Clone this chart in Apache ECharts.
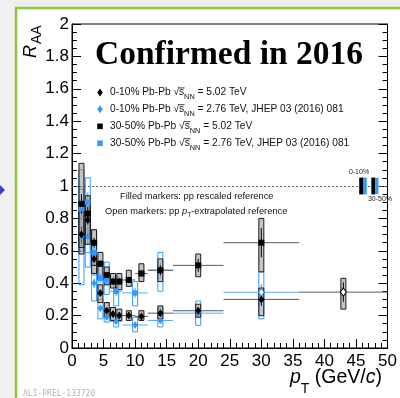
<!DOCTYPE html>
<html>
<head>
<meta charset="utf-8">
<script src="https://cdn.jsdelivr.net/npm/echarts@6/dist/echarts.min.js"></script>
<style>
  html, body { margin: 0; padding: 0; background: #fff; }
  #chart { width: 400px; height: 398px; }
</style>
</head>
<body>
<div id="chart"></div>
<script>
// D-meson nuclear modification factor vs pT in Pb-Pb collisions,
// 0-10% and 30-50% centrality, sqrt(sNN) = 5.02 TeV compared with 2.76 TeV.

// ---- 5.02 TeV bins ----
const ptBins502 = [1.5, 2.5, 3.5, 4.5, 5.5, 6.5, 7.5, 9, 11, 14, 20, 30, 43];
const halfBin502 = [0.5, 0.5, 0.5, 0.5, 0.5, 0.5, 0.5, 1, 1, 2, 4, 6, 7];

// 0-10% at 5.02 TeV
const raa010_502 = [0.70, 0.79, 0.55, 0.34, 0.23, 0.21, 0.20, 0.20, 0.195, 0.215, 0.23, 0.30, 0.345];
const stat010_502 = [0.05, 0.03, 0.025, 0.015, 0.012, 0.01, 0.01, 0.01, 0.01, 0.015, 0.02, 0.04, 0.06];
const sysLo010_502 = [0.58, 0.68, 0.46, 0.28, 0.19, 0.17, 0.17, 0.17, 0.17, 0.18, 0.19, 0.20, 0.24];
const sysHi010_502 = [0.84, 0.90, 0.60, 0.39, 0.28, 0.25, 0.24, 0.23, 0.23, 0.26, 0.27, 0.37, 0.43];
const open010_502 = [0, 0, 0, 0, 0, 0, 0, 0, 0, 0, 0, 0, 1];

// 30-50% at 5.02 TeV (first 12 bins)
const raa3050_502 = [0.89, 0.83, 0.65, 0.52, 0.45, 0.41, 0.41, 0.42, 0.46, 0.48, 0.51, 0.65];
const stat3050_502 = [0.06, 0.04, 0.03, 0.02, 0.02, 0.02, 0.02, 0.02, 0.02, 0.03, 0.04, 0.09];
const sysLo3050_502 = [0.62, 0.64, 0.51, 0.42, 0.39, 0.37, 0.36, 0.38, 0.41, 0.41, 0.44, 0.47];
const sysHi3050_502 = [1.14, 0.94, 0.73, 0.59, 0.50, 0.46, 0.46, 0.48, 0.52, 0.55, 0.58, 0.80];

// ---- 2.76 TeV bins (JHEP 03 (2016) 081) ----
const ptBins276 = [1.5, 2.5, 3.5, 4.5, 5.5, 7, 10, 14, 20, 30];
const halfBin276 = [0.5, 0.5, 0.5, 0.5, 0.5, 1, 2, 2, 4, 6];

// 0-10% at 2.76 TeV
const raa010_276 = [0.69, 0.69, 0.40, 0.245, 0.19, 0.165, 0.142, 0.17, 0.215, 0.344];
const stat010_276 = [0.06, 0.05, 0.03, 0.02, 0.015, 0.015, 0.015, 0.02, 0.03, 0.05];
const sysLo010_276 = [0.39, 0.50, 0.29, 0.18, 0.16, 0.13, 0.10, 0.13, 0.14, 0.18];
const sysHi010_276 = [0.98, 0.88, 0.51, 0.30, 0.28, 0.20, 0.19, 0.245, 0.29, 0.47];
const open010_276 = [0, 0, 0, 0, 0, 0, 0, 0, 0, 1];

// 30-50% at 2.76 TeV (first 8 bins)
const raa3050_276 = [0.86, 0.90, 0.59, 0.43, 0.42, 0.35, 0.34, 0.48];
const stat3050_276 = [0.08, 0.06, 0.04, 0.03, 0.03, 0.03, 0.03, 0.05];
const sysLo3050_276 = [0.60, 0.59, 0.45, 0.33, 0.33, 0.26, 0.26, 0.35];
const sysHi3050_276 = [1.10, 1.05, 0.73, 0.53, 0.53, 0.44, 0.41, 0.59];

// Normalisation uncertainties at R_AA = 1: 0-10% 5.02, 0-10% 2.76, 30-50% 5.02, 30-50% 2.76
const normUnc = [0.052, 0.052, 0.052, 0.050];

// Axis ticks
const xTicks = { min: 0, max: 50, step: 5 };
const yTicks = { min: 0, max: 2, step: 0.2 };

// ---------------------------------------------------------------------------
const BLACK = '#000000';
const BLUE = '#3399ff';
const SANS = 'Liberation Sans, Arial, sans-serif';

function rows(pt, hw, val, stat, lo, hi, n) {
  const out = [];
  for (let i = 0; i < n; i++) out.push([pt[i], val[i], hw[i], stat[i], lo[i], hi[i]]);
  return out;
}

function uncRenderer(lineColor, boxStroke, boxFill, statColor) {
  return function (params, api) {
    const x = api.value(0), y = api.value(1), hw = api.value(2);
    const st = api.value(3), lo = api.value(4), hi = api.value(5);
    const c = api.coord([x, y]);
    const l = api.coord([x - hw, y]);
    const r = api.coord([x + hw, y]);
    const bLo = api.coord([x, lo]);
    const bHi = api.coord([x, hi]);
    const sLo = api.coord([x, y - st]);
    const sHi = api.coord([x, y + st]);
    const bw = 5;
    return {
      type: 'group',
      children: [
        { type: 'line', shape: { x1: l[0], y1: c[1], x2: r[0], y2: c[1] },
          style: { stroke: lineColor, lineWidth: 1 } },
        { type: 'rect', shape: { x: c[0] - bw / 2, y: bHi[1], width: bw, height: bLo[1] - bHi[1] },
          style: { fill: boxFill, stroke: boxStroke, lineWidth: 1 } },
        { type: 'line', shape: { x1: c[0], y1: sLo[1], x2: c[0], y2: sHi[1] },
          style: { stroke: statColor, lineWidth: 1 } }
      ]
    };
  };
}

function markerData(pt, val, n, open, fillColor, borderColor) {
  const out = [];
  for (let i = 0; i < n; i++) {
    const item = { value: [pt[i], val[i]] };
    if (open && open[i]) {
      item.itemStyle = { color: '#ffffff', borderColor: borderColor, borderWidth: 1 };
    }
    out.push(item);
  }
  return out;
}

// ---- text helpers (subscripts are laid out as separate text pieces) ----
const mctx = document.createElement('canvas').getContext('2d');
function textWidth(t, size, family, fstyle, weight) {
  mctx.font = (fstyle || 'normal') + ' ' + (weight || 'normal') + ' ' + size + 'px ' + family;
  return mctx.measureText(t).width;
}

// pieces: [text, kind], kind in n | i | sub | isub | sqrt
function textRun(x, y, pieces, size, color, family, subDy, z) {
  let cx = x;
  const els = [];
  pieces.forEach(function (p) {
    const t = p[0], k = p[1];
    const sub = k === 'sub' || k === 'isub';
    const it = k === 'i' || k === 'isub';
    const fs = sub ? size * 0.72 : size;
    const fst = it ? 'italic' : 'normal';
    const w = textWidth(t, fs, family, fst);
    els.push({
      type: 'text', x: cx, y: sub ? y + size * subDy : y, z: z || 10,
      style: { text: t, fontSize: fs, fontFamily: family, fontStyle: fst, fill: color,
               align: 'left', verticalAlign: 'middle' }
    });
    if (k === 'sqrt') {
      // overline continuing the radical sign across the next character
      const ws = textWidth('s', fs, family, 'normal');
      els.push({ type: 'line', z: z || 10,
        shape: { x1: cx + w - 0.5, y1: y - size * 0.45, x2: cx + w + ws + 0.5, y2: y - size * 0.45 },
        style: { stroke: color, lineWidth: 0.8 } });
    }
    cx += w;
  });
  return els;
}

const graphics = [];

// slide surroundings
graphics.push({ type: 'rect', z: -5, shape: { x: 0, y: 0, width: 400, height: 7 }, style: { fill: '#ededed' } });
graphics.push({ type: 'rect', z: -5, shape: { x: 0, y: 0, width: 15, height: 398 }, style: { fill: '#f1f1f1' } });
graphics.push({ type: 'line', z: 20, shape: { x1: 15, y1: 8, x2: 400, y2: 8 }, style: { stroke: '#8dc63f', lineWidth: 2.5 } });
graphics.push({ type: 'line', z: 20, shape: { x1: 16, y1: 7, x2: 16, y2: 398 }, style: { stroke: '#8dc63f', lineWidth: 2.5 } });
graphics.push({ type: 'polygon', z: 20, shape: { points: [[0, 185], [5, 190], [0, 195]] }, style: { fill: '#3c3ccf' } });

// headline
graphics.push({ type: 'text', x: 95, y: 55.5, z: 10,
  style: { text: 'Confirmed in 2016', fontSize: 33.5, fontWeight: 'bold', fontFamily: 'Liberation Serif, serif',
           fill: '#000', align: 'left', verticalAlign: 'middle' } });

// legend
const legendRows = [
  { y: 92.5, sym: 'diamond', color: BLACK, cent: '0-10% Pb-Pb ', tail: ' = 5.02 TeV' },
  { y: 109.3, sym: 'diamond', color: BLUE, cent: '0-10% Pb-Pb ', tail: ' = 2.76 TeV, JHEP 03 (2016) 081' },
  { y: 126.3, sym: 'square', color: BLACK, cent: '30-50% Pb-Pb ', tail: ' = 5.02 TeV' },
  { y: 143.3, sym: 'square', color: BLUE, cent: '30-50% Pb-Pb ', tail: ' = 2.76 TeV, JHEP 03 (2016) 081' }
];
legendRows.forEach(function (r) {
  if (r.sym === 'diamond') {
    graphics.push({ type: 'polygon', z: 10, shape: { points: [[100, r.y - 4], [102.8, r.y], [100, r.y + 4], [97.2, r.y]] },
      style: { fill: r.color } });
  } else {
    graphics.push({ type: 'rect', z: 10, shape: { x: 97.2, y: r.y - 2.8, width: 5.6, height: 5.6 }, style: { fill: r.color } });
  }
  textRun(110, r.y, [[r.cent, 'n'], ['\u221A', 'sqrt'], ['s', 'n'], ['NN', 'sub'], [r.tail, 'n']],
          10.2, '#111', SANS, 0.42, 10).forEach(function (e) { graphics.push(e); });
});

// reference notes
graphics.push({ type: 'text', x: 120, y: 196, z: 10,
  style: { text: 'Filled markers: pp rescaled reference', fontSize: 9.3, fontFamily: SANS, fill: '#111',
           align: 'left', verticalAlign: 'middle' } });
textRun(105, 211, [['Open markers: pp ', 'n'], ['p', 'i'], ['T', 'sub'], ['-extrapolated reference', 'n']],
        9.3, '#111', SANS, 0.45, 10).forEach(function (e) { graphics.push(e); });

// normalisation box labels
graphics.push({ type: 'text', x: 359, y: 172.5, z: 10,
  style: { text: '0-10%', fontSize: 7, fontFamily: SANS, fill: '#222', align: 'center', verticalAlign: 'middle' } });
graphics.push({ type: 'text', x: 380, y: 199.5, z: 10,
  style: { text: '30-50%', fontSize: 7, fontFamily: SANS, fill: '#222', align: 'center', verticalAlign: 'middle' } });

// axis titles
graphics.push({
  type: 'group', x: 31, y: 58, rotation: Math.PI / 2, z: 10,
  children: [
    { type: 'text', x: 0, y: 0, style: { text: 'R', fontSize: 18, fontStyle: 'italic', fontFamily: SANS, fill: '#000',
        align: 'left', verticalAlign: 'middle' } },
    { type: 'text', x: textWidth('R', 18, SANS, 'italic') + 1, y: 6.5, style: { text: 'AA', fontSize: 14, fontFamily: SANS,
        fill: '#000', align: 'left', verticalAlign: 'middle' } }
  ]
});
textRun(290, 377.5, [['p', 'i'], ['T', 'sub'], [' (GeV/', 'n'], ['c', 'i'], [')', 'n']],
        19.5, '#000', SANS, 0.62, 10).forEach(function (e) { graphics.push(e); });

// preliminary figure id
graphics.push({ type: 'text', x: 23, y: 394, z: 10,
  style: { text: 'ALI-PREL-133720', fontSize: 8, fontFamily: 'DejaVu Sans Mono, monospace', fill: '#b5b5b5',
           align: 'left', verticalAlign: 'middle' } });

// ---------------------------------------------------------------------------
const axisCommon = {
  axisLine: { show: true, onZero: false, lineStyle: { color: '#000', width: 1 } },
  axisTick: { show: true, inside: true, length: 9, lineStyle: { color: '#000', width: 1 } },
  minorTick: { show: true, length: 5, lineStyle: { color: '#000', width: 1 } },
  splitLine: { show: false },
  minorSplitLine: { show: false }
};

const option = {
  backgroundColor: '#ffffff',
  animation: false,
  grid: { left: 72, top: 24, width: 318, height: 324, show: true, borderColor: '#000', borderWidth: 1,
          backgroundColor: 'transparent' },
  xAxis: [{
    type: 'value', min: xTicks.min, max: xTicks.max, interval: xTicks.step,
    axisLine: axisCommon.axisLine, axisTick: axisCommon.axisTick,
    minorTick: Object.assign({ splitNumber: 5 }, axisCommon.minorTick),
    splitLine: axisCommon.splitLine, minorSplitLine: axisCommon.minorSplitLine,
    axisLabel: { fontSize: 17, color: '#000', fontFamily: SANS, margin: 5, showMinLabel: true, showMaxLabel: true }
  }],
  yAxis: [{
    type: 'value', min: yTicks.min, max: yTicks.max, interval: yTicks.step,
    axisLine: axisCommon.axisLine, axisTick: axisCommon.axisTick,
    minorTick: Object.assign({ splitNumber: 4 }, axisCommon.minorTick),
    splitLine: axisCommon.splitLine, minorSplitLine: axisCommon.minorSplitLine,
    axisLabel: { fontSize: 17, color: '#000', fontFamily: SANS, margin: 3, showMinLabel: true, showMaxLabel: true }
  }, {
    type: 'value', position: 'right', min: yTicks.min, max: yTicks.max, interval: yTicks.step,
    axisLine: axisCommon.axisLine, axisTick: axisCommon.axisTick,
    minorTick: Object.assign({ splitNumber: 4 }, axisCommon.minorTick),
    splitLine: axisCommon.splitLine, minorSplitLine: axisCommon.minorSplitLine,
    axisLabel: { show: false }
  }],
  graphic: { elements: graphics },
  series: [
    {
      type: 'custom', name: 'unc 0-10% 2.76', z: 2, clip: true,
      renderItem: uncRenderer('#56a9ff', BLUE, 'rgba(255,255,255,0)', BLUE),
      encode: { x: 0, y: 1 },
      data: rows(ptBins276, halfBin276, raa010_276, stat010_276, sysLo010_276, sysHi010_276, raa010_276.length)
    },
    {
      type: 'custom', name: 'unc 30-50% 2.76', z: 2, clip: true,
      renderItem: uncRenderer('#56a9ff', BLUE, 'rgba(255,255,255,0)', BLUE),
      encode: { x: 0, y: 1 },
      data: rows(ptBins276, halfBin276, raa3050_276, stat3050_276, sysLo3050_276, sysHi3050_276, raa3050_276.length)
    },
    {
      type: 'custom', name: 'unc 0-10% 5.02', z: 3, clip: true,
      renderItem: uncRenderer('#5a5a5a', '#1a1a1a', 'rgba(150,150,150,0.55)', '#000'),
      encode: { x: 0, y: 1 },
      data: rows(ptBins502, halfBin502, raa010_502, stat010_502, sysLo010_502, sysHi010_502, raa010_502.length)
    },
    {
      type: 'custom', name: 'unc 30-50% 5.02', z: 3, clip: true,
      renderItem: uncRenderer('#5a5a5a', '#1a1a1a', 'rgba(150,150,150,0.55)', '#000'),
      encode: { x: 0, y: 1 },
      data: rows(ptBins502, halfBin502, raa3050_502, stat3050_502, sysLo3050_502, sysHi3050_502, raa3050_502.length)
    },
    {
      // normalisation uncertainty boxes drawn around R_AA = 1
      type: 'custom', name: 'normalisation', z: 3, clip: true,
      renderItem: function (params, api) {
        const slots = [[45.85, 0.68, BLACK], [46.45, 0.52, BLUE], [47.75, 0.64, BLACK], [48.3, 0.52, BLUE]];
        const s = slots[params.dataIndex];
        const u = api.value(1);
        const a = api.coord([s[0] - s[1] / 2, 1 + u]);
        const b = api.coord([s[0] + s[1] / 2, 1 - u]);
        return { type: 'rect', shape: { x: a[0], y: a[1], width: b[0] - a[0], height: b[1] - a[1] },
                 style: { fill: s[2] } };
      },
      encode: { x: 0, y: 1 },
      data: normUnc.map(function (u, i) { return [i, u]; })
    },
    {
      type: 'scatter', name: '0-10% 2.76 TeV', z: 4, symbol: 'diamond', symbolSize: [5.5, 7.5],
      itemStyle: { color: BLUE, opacity: 1 },
      data: markerData(ptBins276, raa010_276, raa010_276.length, open010_276, BLUE, BLUE)
    },
    {
      type: 'scatter', name: '30-50% 2.76 TeV', z: 4, symbol: 'rect', symbolSize: 5.5,
      itemStyle: { color: BLUE, opacity: 1 },
      data: markerData(ptBins276, raa3050_276, raa3050_276.length, null, BLUE, BLUE)
    },
    {
      type: 'scatter', name: '0-10% 5.02 TeV', z: 5, symbol: 'diamond', symbolSize: [6, 8],
      itemStyle: { color: BLACK, opacity: 1 },
      data: markerData(ptBins502, raa010_502, raa010_502.length, open010_502, BLACK, BLACK)
    },
    {
      type: 'scatter', name: '30-50% 5.02 TeV', z: 5, symbol: 'rect', symbolSize: 6,
      itemStyle: { color: BLACK, opacity: 1 },
      data: markerData(ptBins502, raa3050_502, raa3050_502.length, null, BLACK, BLACK),
      markLine: {
        silent: true, symbol: ['none', 'none'], z: 1,
        label: { show: false },
        lineStyle: { color: '#666', width: 1, type: [2, 2] },
        data: [{ yAxis: 1 }]
      }
    }
  ]
};

const chart = echarts.init(document.getElementById('chart'), null, { renderer: 'canvas' });
chart.setOption(option);
</script>
</body>
</html>
